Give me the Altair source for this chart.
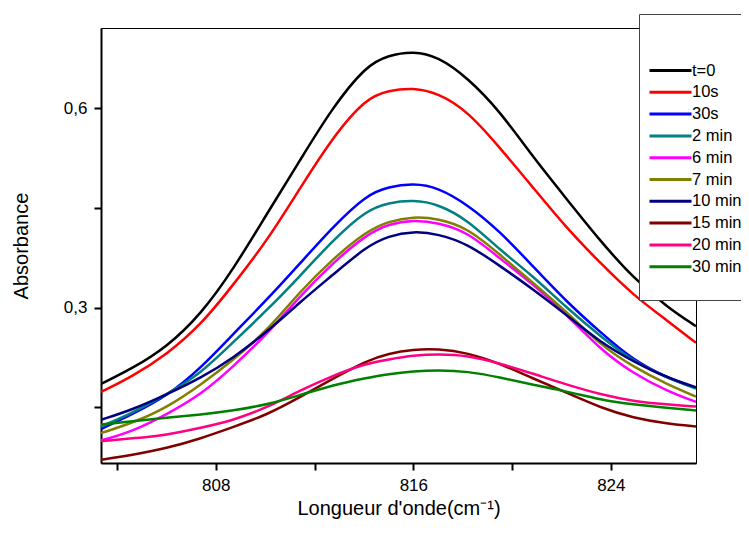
import altair as alt
import pandas as pd

wavenumber = [803.35, 804.6, 806.0, 807.4, 808.7, 810.1, 811.4, 812.7, 814.1, 815.0,
              816.0, 817.0, 818.2, 819.5, 820.8, 822.2, 823.6, 824.9, 826.3, 827.45]

series_names = ["t=0", "10s", "30s", "2 min", "6 min", "7 min", "10 min", "15 min", "20 min", "30 min"]
series_colors = ["#000000", "#FF0000", "#0000FF", "#008080", "#FF00FF",
                 "#808000", "#000080", "#800000", "#FF0080", "#008000"]

abs_t0 = [0.185, 0.208, 0.240, 0.290, 0.357, 0.443, 0.521, 0.600, 0.665, 0.680,
          0.686, 0.678, 0.646, 0.596, 0.529, 0.464, 0.399, 0.345, 0.300, 0.272]
abs_10s = [0.173, 0.196, 0.229, 0.274, 0.334, 0.402, 0.479, 0.555, 0.616, 0.627,
           0.631, 0.623, 0.596, 0.541, 0.483, 0.420, 0.366, 0.319, 0.280, 0.247]
abs_30s = [0.117, 0.139, 0.166, 0.209, 0.260, 0.313, 0.366, 0.420, 0.470, 0.482,
           0.487, 0.481, 0.455, 0.415, 0.364, 0.309, 0.262, 0.221, 0.194, 0.179]
abs_2min = [0.121, 0.141, 0.169, 0.201, 0.248, 0.297, 0.347, 0.400, 0.447, 0.458,
            0.462, 0.456, 0.432, 0.387, 0.349, 0.300, 0.256, 0.219, 0.194, 0.178]
abs_6min = [0.100, 0.113, 0.139, 0.169, 0.211, 0.261, 0.317, 0.366, 0.410, 0.426,
            0.432, 0.428, 0.414, 0.374, 0.337, 0.290, 0.236, 0.201, 0.174, 0.158]
abs_7min = [0.111, 0.126, 0.149, 0.184, 0.221, 0.266, 0.324, 0.372, 0.415, 0.430,
            0.437, 0.434, 0.420, 0.380, 0.339, 0.294, 0.243, 0.211, 0.184, 0.166]
abs_10min = [0.131, 0.146, 0.169, 0.194, 0.224, 0.264, 0.308, 0.348, 0.392, 0.408,
             0.415, 0.411, 0.396, 0.363, 0.329, 0.289, 0.247, 0.219, 0.194, 0.180]
abs_15min = [0.071, 0.078, 0.088, 0.103, 0.120, 0.139, 0.165, 0.192, 0.220, 0.231,
             0.237, 0.238, 0.232, 0.216, 0.194, 0.172, 0.149, 0.134, 0.125, 0.121]
abs_20min = [0.099, 0.103, 0.108, 0.119, 0.130, 0.150, 0.175, 0.197, 0.216, 0.222,
             0.228, 0.230, 0.228, 0.216, 0.201, 0.184, 0.169, 0.159, 0.154, 0.151]
abs_30min = [0.124, 0.129, 0.134, 0.139, 0.145, 0.154, 0.168, 0.183, 0.194, 0.200,
             0.204, 0.206, 0.204, 0.195, 0.184, 0.174, 0.161, 0.154, 0.149, 0.145]

all_series = [abs_t0, abs_10s, abs_30s, abs_2min, abs_6min, abs_7min,
              abs_10min, abs_15min, abs_20min, abs_30min]

x_ticks = [804, 808, 812, 816, 820, 824]
y_ticks = [0.15, 0.3, 0.45, 0.6]

rows = []
for k, (name, vals) in enumerate(zip(series_names, all_series)):
    for w, v in zip(wavenumber, vals):
        rows.append({"wn": w, "A": v, "series": name, "k": k})
df = pd.DataFrame(rows)

# blank spacer entry at the end of the legend box
legend_domain = series_names + ["\u00a0"]
legend_range = series_colors + ["rgba(0,0,0,0)"]

FONT = "Liberation Sans"

chart = alt.Chart(df).mark_line(strokeWidth=2.5, interpolate="basis", clip=True).encode(
    x=alt.X("wn:Q",
            scale=alt.Scale(domain=[803.35, 827.45], nice=False, zero=False),
            title="Longueur d'onde(cm⁻¹)",
            axis=alt.Axis(values=x_ticks, format="d",
                          labelExpr="datum.value % 8 == 0 ? datum.label : ''",
                          grid=False, tickSize=7, tickWidth=2, tickColor="black",
                          domainColor="black", domainWidth=2,
                          labelFont=FONT, labelFontSize=17, labelColor="black", labelPadding=7,
                          titleFont=FONT, titleFontSize=20, titleFontWeight="normal",
                          titleColor="black", titlePadding=5)),
    y=alt.Y("A:Q",
            scale=alt.Scale(domain=[0.066, 0.721], nice=False, zero=False),
            title="Absorbance",
            axis=alt.Axis(values=y_ticks,
                          labelExpr="(round(datum.value*20) % 6 == 0) ? replace(format(datum.value, '.1f'), '.', ',') : ''",
                          grid=False, tickSize=7, tickWidth=2, tickColor="black",
                          domainColor="black", domainWidth=2,
                          labelFont=FONT, labelFontSize=17, labelColor="black", labelPadding=7,
                          titleFont=FONT, titleFontSize=20, titleFontWeight="normal",
                          titleColor="black", titlePadding=32)),
    color=alt.Color("series:N",
                    scale=alt.Scale(domain=legend_domain, range=legend_range),
                    title=" ",
                    legend=alt.Legend(orient="none", legendX=538, legendY=-14,
                                      symbolType="M0,0L6,0", symbolSize=196, symbolStrokeWidth=3,
                                      labelFont=FONT, labelFontSize=16.5, labelColor="black",
                                      labelOffset=34, labelLimit=200, rowPadding=4.8,
                                      padding=2, strokeColor="#444", fillColor="white",
                                      titleFontSize=16, titlePadding=30)),
    detail="k:O",
).properties(
    width=595, height=435,
    padding={"left": 93, "top": 20, "right": 45, "bottom": 62},
    autosize=alt.AutoSizeParams(type="none"),
).configure_view(stroke="black", strokeWidth=1)

chart.save("out.html", embed_options={"renderer": "svg", "actions": False})
